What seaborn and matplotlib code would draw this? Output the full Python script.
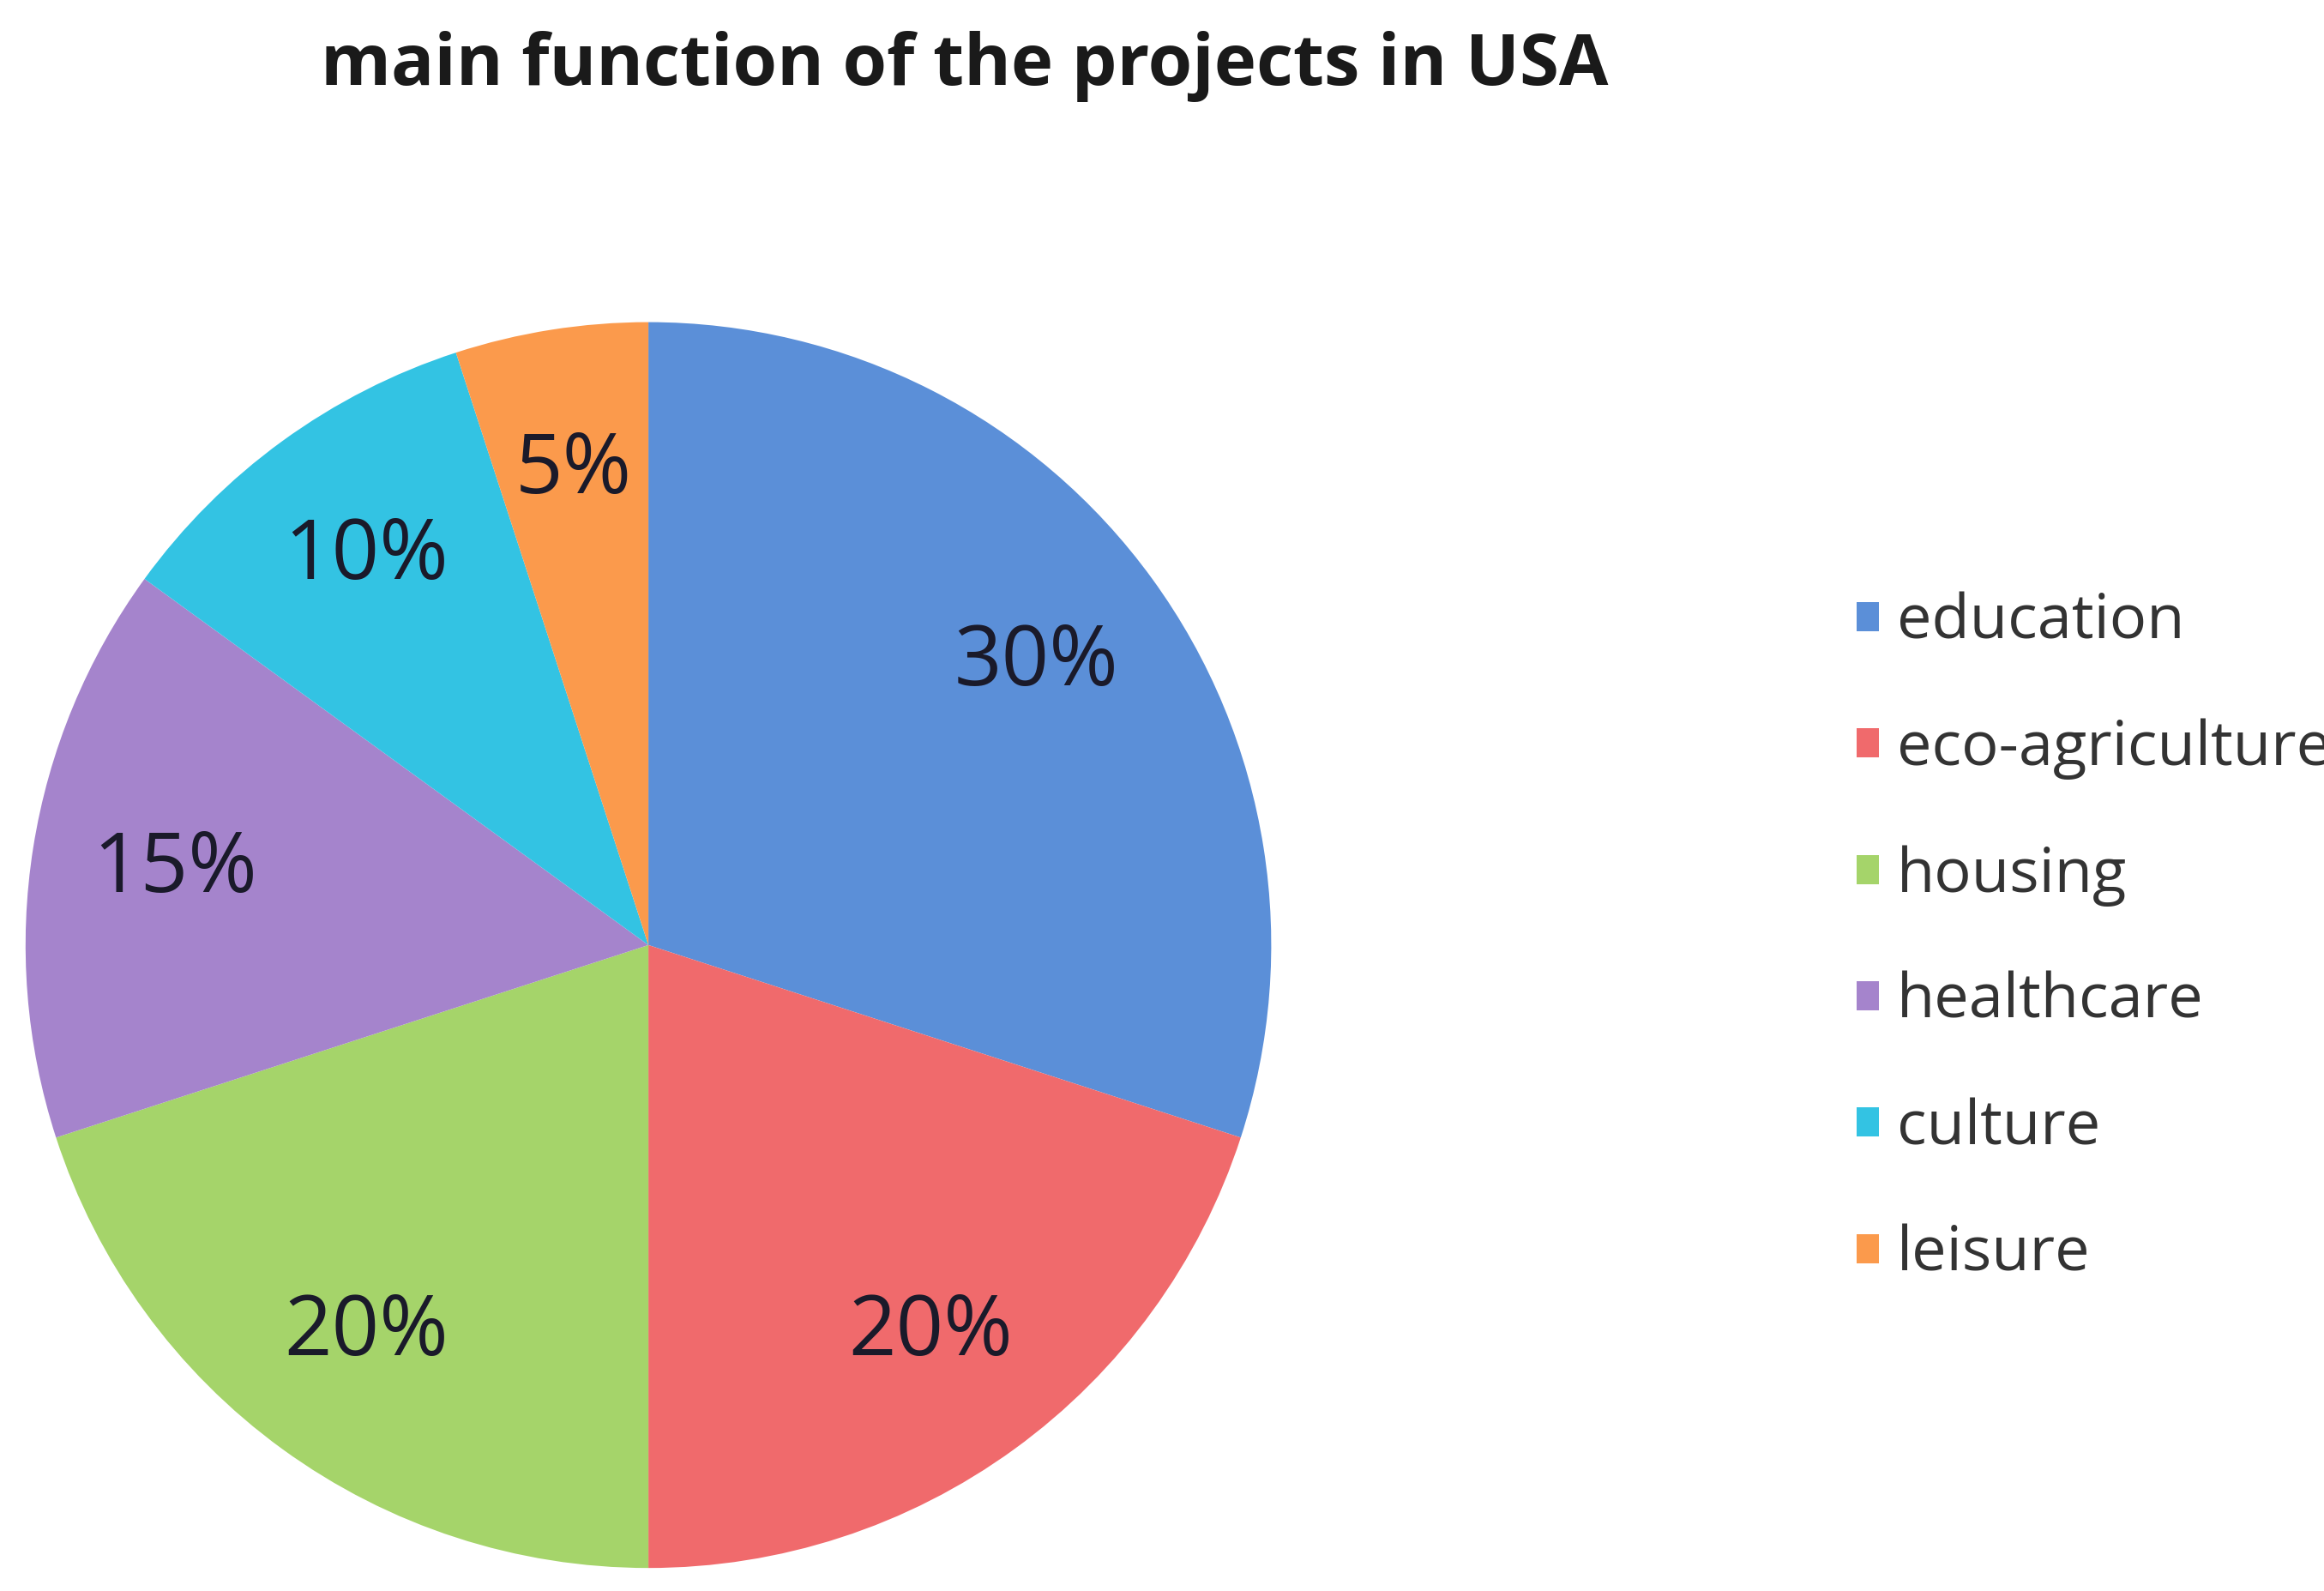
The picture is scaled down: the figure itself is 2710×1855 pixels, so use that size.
import matplotlib
matplotlib.use("Agg")
import matplotlib.pyplot as plt
import seaborn as sns

# dados
categorias = ['education', 'eco-agriculture', 'housing', 'healthcare', 'culture', 'leisure']
percentuais = [30, 20, 20, 15, 10, 5]
cores_hex = ['#5b8fd8', '#f06a6c', '#a5d46a', '#a584cc', '#33c3e3', '#fb9a4c']

sns.set_theme(style="white")
plt.rcParams['font.family'] = ['Open Sans', 'DejaVu Sans']
cores = sns.color_palette(cores_hex)

fig = plt.figure(figsize=(27.1, 18.55), dpi=100)
ax = fig.add_axes([-0.056, -0.084, 0.67, 0.98])
fatias, textos, autotextos = ax.pie(
    percentuais, colors=cores, startangle=90, counterclock=False,
    autopct='%d%%', pctdistance=0.77,
    wedgeprops={'linewidth': 0}, textprops={'fontsize': 70, 'color': '#1a1a2a'})
ax.set_aspect('equal')

fig.text(0.415, 0.958, 'main function of the projects in USA', ha='center', va='center',
         fontsize=60, fontweight='bold', color='#1a1a1a')

fig.legend(fatias, categorias, loc='center left', bbox_to_anchor=(0.775, 0.41),
           frameon=False, fontsize=52, handlelength=0.35, handleheight=0.35,
           handletextpad=0.3, labelspacing=1.05, labelcolor='#333333')

fig.savefig('out.png', dpi=100)
